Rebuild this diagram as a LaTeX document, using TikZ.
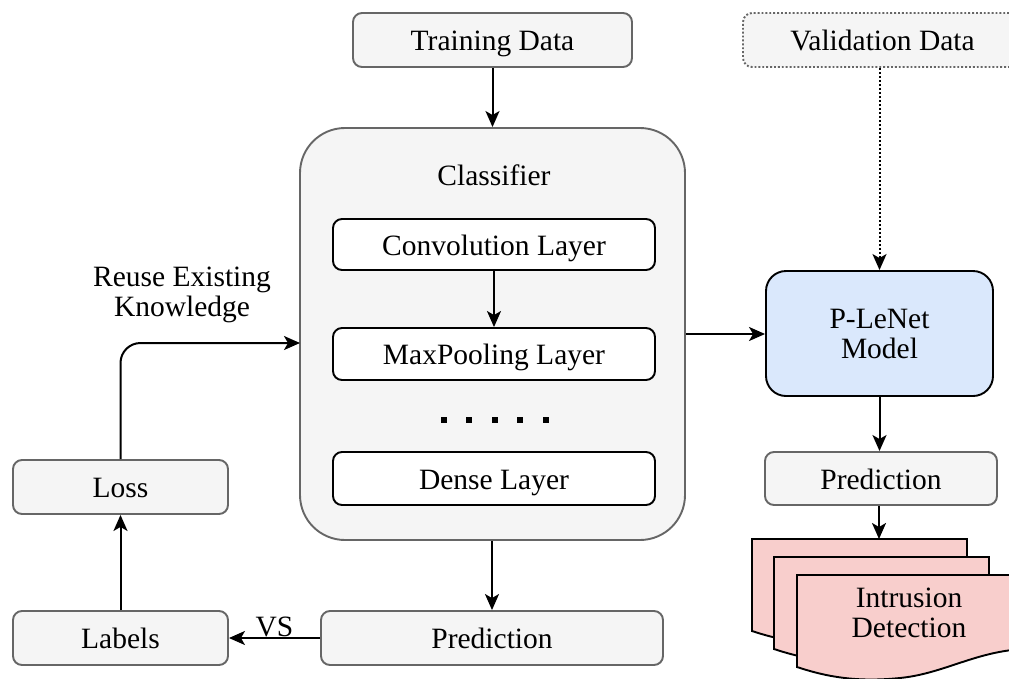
\documentclass[tikz,border=0pt]{standalone}
\usepackage{fontspec}
\setmainfont{Liberation Serif}
\usetikzlibrary{arrows.meta}
\definecolor{boxfill}{HTML}{F5F5F5}
\definecolor{boxline}{HTML}{666666}
\definecolor{modelfill}{HTML}{DAE8FC}
\definecolor{docfill}{HTML}{F8CECC}
\begin{document}
\begin{tikzpicture}[x=1pt,y=-1pt,
  font=\fontsize{29.5}{30}\selectfont,
  oneline/.style={text height=22pt, text depth=1pt},
  graybox/.style={draw=boxline, fill=boxfill, line width=1.9pt, rounded corners=9pt, inner sep=0pt, oneline},
  layerbox/.style={draw=black, fill=white, line width=1.9pt, rounded corners=9pt, inner sep=0pt, minimum width=322pt, oneline},
  arr/.style={line width=2pt, -{Stealth[length=16pt,width=14pt,inset=4pt]}},
  docsheet/.style={draw=black, fill=docfill, line width=1.9pt}]
\clip (0,0) rectangle (1009,678);

% boxes
\node[graybox, minimum width=279pt, minimum height=54pt] (train) at (492.5,40) {Training Data};
\node[graybox, dotted, minimum width=279pt, minimum height=54pt] (valid) at (882.5,40) {Validation Data};
\node[draw=boxline, fill=boxfill, line width=1.9pt, rounded corners=45pt, minimum width=385pt, minimum height=412pt] (clf) at (492.5,334) {};
\node[oneline] (clflabel) at (494,175) {Classifier};
\node[layerbox, minimum height=51pt] (conv) at (494,244.5) {Convolution Layer};
\node[layerbox, minimum height=52pt] (maxp) at (494,354) {MaxPooling Layer};
\node[layerbox, minimum height=53pt] (dense) at (494,478.5) {Dense Layer};
\foreach \x in {444,469,495,520,546} \fill (\x-3,417) rectangle (\x+3,423);

\node[draw=black, fill=modelfill, line width=1.9pt, rounded corners=20pt, minimum width=227pt, minimum height=125pt, align=center] (model) at (879.5,333.5) {P-LeNet\\Model};
\node[graybox, minimum width=232pt, minimum height=53pt] (predr) at (881,478.5) {Prediction};
\node[graybox, minimum width=215pt, minimum height=54pt] (loss) at (120.5,487) {Loss};
\node[graybox, minimum width=215pt, minimum height=54pt] (labels) at (120.5,638) {Labels};
\node[graybox, minimum width=342pt, minimum height=54pt] (predb) at (492,638) {Prediction};
\node[align=center] (reusetxt) at (182,295) {Reuse Existing\\Knowledge};

% multi-document
\foreach \dx/\dy in {752/539, 774/557, 797/575} {
  \draw[docsheet] (\dx,\dy) -- ({\dx+215},\dy) -- ({\dx+215},{\dy+75})
    .. controls ({\dx+173},{\dy+80}) and ({\dx+143},{\dy+99}) .. ({\dx+103},{\dy+103})
    .. controls ({\dx+63},{\dy+107}) and ({\dx+33},{\dy+103}) .. (\dx,{\dy+92}) -- cycle;
}
\node[align=center] (intr) at (909,613) {Intrusion\\Detection};
\coordinate (doctop) at (879,539);
\coordinate (reuse) at (300,343);

% connectors
\draw[arr] (train.south) -- (clf.north);
\draw[arr] (conv.south) -- (maxp.north);
\draw[arr] (clf.east) -- (clf.east -| model.west);
\draw[arr, dotted] (model.north |- valid.south) -- (model.north);
\draw[arr] (model.south) -- (model.south |- predr.north);
\draw[arr] (doctop |- predr.south) -- (doctop);
\draw[arr] (predb.north |- clf.south) -- (predb.north);
\draw[arr] (predb.west) -- node[above=-3pt] {VS} (labels.east);
\draw[arr] (labels.north) -- (loss.south);
\draw[arr, rounded corners=20pt] (loss.north) |- (reuse);
\end{tikzpicture}
\end{document}
